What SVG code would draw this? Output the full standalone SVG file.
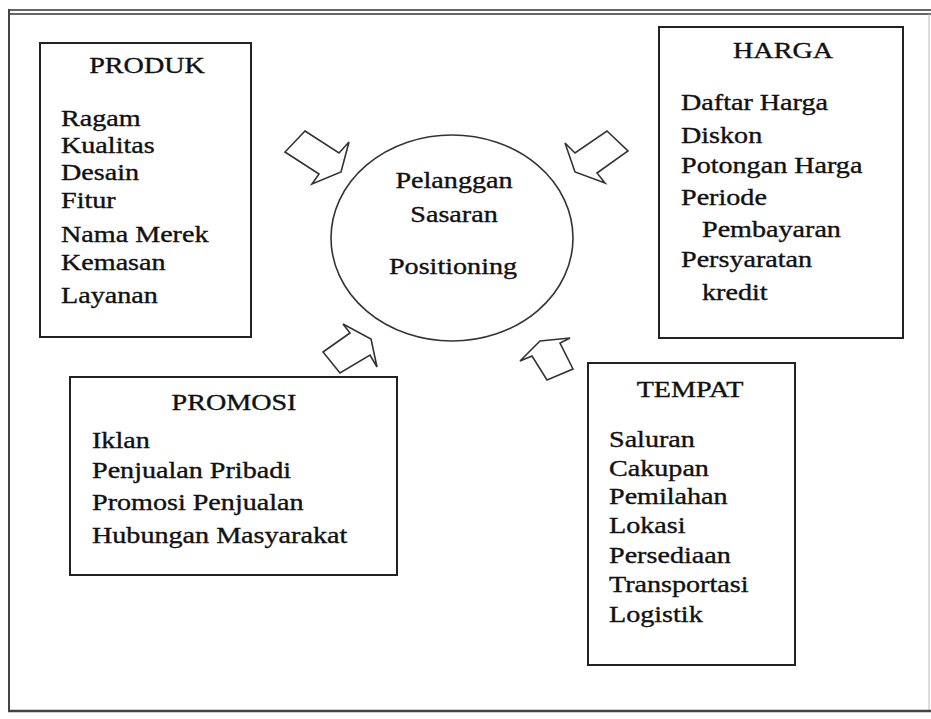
<svg xmlns="http://www.w3.org/2000/svg" width="931" height="719" viewBox="0 0 931 719">
<style>
.t{font-family:"Liberation Serif","Times New Roman",serif;font-size:22.5px;fill:#111;stroke:#111;stroke-width:0.35;}
.c{text-anchor:middle;}
.box{fill:#fff;stroke:#222;stroke-width:2;}
.arr{fill:#fff;stroke:#333;stroke-width:1.6;stroke-linejoin:miter;}
</style>
<rect width="931" height="719" fill="#fff"/>
<g id="frame" fill="none">
<line x1="9" y1="10" x2="931" y2="10" stroke="#333" stroke-width="1.5"/>
<line x1="9" y1="14" x2="931" y2="14" stroke="#333" stroke-width="1.5"/>
<line x1="9" y1="9" x2="9" y2="712" stroke="#444" stroke-width="2"/>
<line x1="929" y1="14" x2="929" y2="711" stroke="#bbb" stroke-width="1"/>
<line x1="8" y1="711" x2="931" y2="711" stroke="#444" stroke-width="2.5"/>
</g>
<g id="connectors">
<polygon class="arr" points="305,131 339,153 349,142 341,172 312,184 319,174 285,152"/>
<polygon class="arr" points="607,131 628,151 597,173 605,183 575,172 565,143 575,153"/>
<polygon class="arr" points="323,352 350,333 343,324 371,339 377,367 370,355 340,373"/>
<polygon class="arr" points="520,361 540,341 570,338 560,343 573,369 547,380 532,356"/>
</g>
<g id="center">
<ellipse cx="452" cy="238" rx="121" ry="103" fill="none" stroke="#333" stroke-width="1.6"/>
<text class="t c" transform="translate(454,188) scale(1.25,1)">Pelanggan</text>
<text class="t c" transform="translate(454,222) scale(1.25,1)">Sasaran</text>
<text class="t c" transform="translate(453,274) scale(1.25,1)">Positioning</text>
</g>
<g id="produk">
<rect class="box" x="40" y="43" width="211" height="294"/>
<text class="t c" transform="translate(147,73) scale(1.25,1)">PRODUK</text>
<text class="t" transform="translate(61,126) scale(1.25,1)">Ragam</text>
<text class="t" transform="translate(61,153) scale(1.25,1)">Kualitas</text>
<text class="t" transform="translate(61,180) scale(1.25,1)">Desain</text>
<text class="t" transform="translate(61,208) scale(1.25,1)">Fitur</text>
<text class="t" transform="translate(61,242) scale(1.25,1)">Nama Merek</text>
<text class="t" transform="translate(61,270) scale(1.25,1)">Kemasan</text>
<text class="t" transform="translate(61,303) scale(1.25,1)">Layanan</text>
</g>
<g id="harga">
<rect class="box" x="659" y="27" width="244" height="311"/>
<text class="t c" transform="translate(783,58) scale(1.25,1)">HARGA</text>
<text class="t" transform="translate(681,110) scale(1.25,1)">Daftar Harga</text>
<text class="t" transform="translate(681,143) scale(1.25,1)">Diskon</text>
<text class="t" transform="translate(681,173) scale(1.25,1)">Potongan Harga</text>
<text class="t" transform="translate(681,205) scale(1.25,1)">Periode</text>
<text class="t" transform="translate(702,237) scale(1.25,1)">Pembayaran</text>
<text class="t" transform="translate(681,267) scale(1.25,1)">Persyaratan</text>
<text class="t" transform="translate(702,300) scale(1.25,1)">kredit</text>
</g>
<g id="promosi">
<rect class="box" x="70" y="377" width="327" height="198"/>
<text class="t c" transform="translate(234,410) scale(1.25,1)">PROMOSI</text>
<text class="t" transform="translate(92,448) scale(1.25,1)">Iklan</text>
<text class="t" transform="translate(92,478) scale(1.25,1)">Penjualan Pribadi</text>
<text class="t" transform="translate(92,510) scale(1.25,1)">Promosi Penjualan</text>
<text class="t" transform="translate(92,543) scale(1.25,1)">Hubungan Masyarakat</text>
</g>
<g id="tempat">
<rect class="box" x="588" y="363" width="207" height="302"/>
<text class="t c" transform="translate(690,397) scale(1.25,1)">TEMPAT</text>
<text class="t" transform="translate(609,447) scale(1.25,1)">Saluran</text>
<text class="t" transform="translate(609,476) scale(1.25,1)">Cakupan</text>
<text class="t" transform="translate(609,504) scale(1.25,1)">Pemilahan</text>
<text class="t" transform="translate(609,533) scale(1.25,1)">Lokasi</text>
<text class="t" transform="translate(609,563) scale(1.25,1)">Persediaan</text>
<text class="t" transform="translate(609,592) scale(1.25,1)">Transportasi</text>
<text class="t" transform="translate(609,622) scale(1.25,1)">Logistik</text>
</g>
</svg>
